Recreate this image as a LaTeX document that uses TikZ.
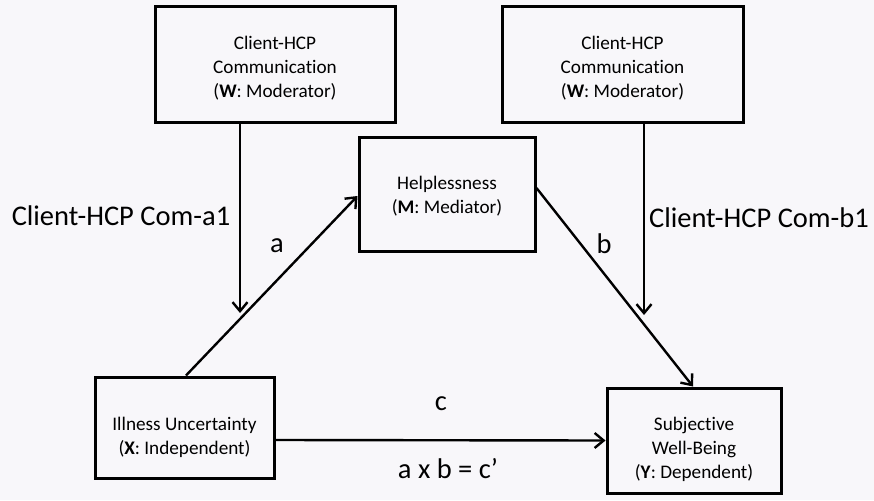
\documentclass[tikz,border=0pt]{standalone}
\usepackage{fontspec}
\setmainfont[Ligatures=NoCommon]{Carlito}
\usetikzlibrary{arrows.meta}
\definecolor{bgc}{HTML}{F8F7FA}
\tikzset{
  box/.style={draw=black, line width=3pt, rectangle, inner sep=0pt},
  boxtext/.style={align=center, font=\fontsize{19.2}{24}\selectfont, inner sep=0pt},
  biglabel/.style={font=\fontsize{28.5}{32}\selectfont, inner sep=0pt, anchor=base},
  conn/.style={line width=2.4pt, -{Straight Barb[length=9pt,width=15pt,line width=2.4pt]}}
}
\begin{document}
\begin{tikzpicture}[x=1pt,y=-1pt]
\useasboundingbox[fill=bgc] (0,0) rectangle (874,500);
% boxes
\node[box, minimum width=240pt, minimum height=115pt] (tl) at (275,64.5) {};
\node[box, minimum width=241pt, minimum height=115pt] (tr) at (622.5,64.5) {};
\node[box, minimum width=176pt, minimum height=114pt] (hel) at (447,194) {};
\node[box, minimum width=179pt, minimum height=101pt] (ill) at (184.5,427.5) {};
\node[box, minimum width=174pt, minimum height=105pt] (sub) at (694,440.5) {};
% box texts
\node[boxtext] (tlt) at (275,68) {Client-HCP\\Communication\\(\textbf{W}: Moderator)};
\node[boxtext] (trt) at (622.5,68) {Client-HCP\\Communication\\(\textbf{W}: Moderator)};
\node[boxtext] (helt) at (447,196.5) {Helplessness\\(\textbf{M}: Mediator)};
\node[boxtext] (illt) at (184.5,437.5) {Illness Uncertainty\\(\textbf{X}: Independent)};
\node[boxtext] (subt) at (694,449) {Subjective\\Well-Being\\(\textbf{Y}: Dependent)};
% labels
\node[biglabel] (la1) at (121,225) {Client-HCP Com-a1};
\node[biglabel] (lb1) at (759,227) {Client-HCP Com-b1};
\node[biglabel] (la) at (277,252) {a};
\node[biglabel] (lb) at (604,253) {b};
\node[biglabel] (lc) at (441,410) {c};
\node[biglabel] (labc) at (448,478) {a x b = c’};
% connectors
\coordinate (ta) at (240,313);
\coordinate (tb) at (644,315);
\draw[conn] ([xshift=-35pt]tl.south) -- (ta);
\draw[conn] ([xshift=21.5pt]tr.south) -- (tb);
\draw[conn] ([xshift=1.5pt]ill.north) -- ([yshift=-2pt]hel.west);
\draw[conn] ([yshift=6pt]hel.east) -- ([xshift=-1pt]sub.north);
\draw[conn] ([yshift=-12.5pt]ill.east) -- (sub.west);
\end{tikzpicture}
\end{document}
